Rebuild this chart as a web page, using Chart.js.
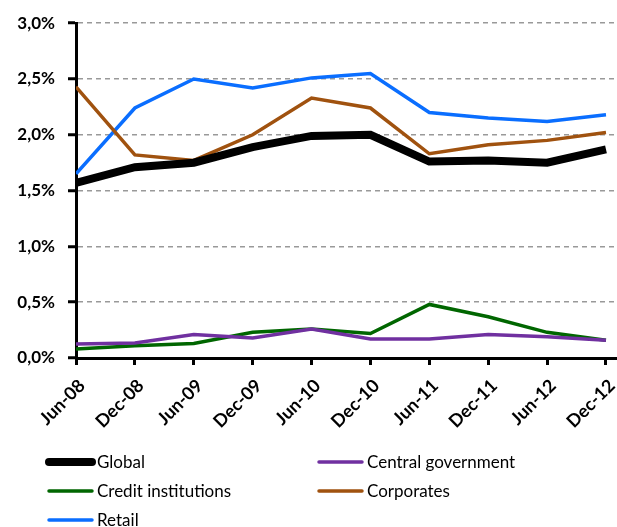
<!DOCTYPE html>
<html>
<head>
<meta charset="utf-8">
<script src="https://cdn.jsdelivr.net/npm/chart.js@4/dist/chart.umd.min.js"></script>
<style>
html,body{margin:0;padding:0;background:#fff;}
#wrap{width:617px;height:527px;position:relative;}
</style>
</head>
<body>
<div id="wrap"><canvas id="c" width="617" height="527"></canvas></div>
<script>
const categories = ["Jun-08","Dec-08","Jun-09","Dec-09","Jun-10","Dec-10","Jun-11","Dec-11","Jun-12","Dec-12"];
const yTicks = [0, 0.5, 1.0, 1.5, 2.0, 2.5, 3.0];
const globalVals     = [1.57, 1.71, 1.75, 1.89, 1.99, 2.00, 1.76, 1.77, 1.75, 1.87];
const centralGov     = [0.125, 0.135, 0.21, 0.18, 0.26, 0.17, 0.17, 0.21, 0.19, 0.16];
const creditInst     = [0.08, 0.11, 0.13, 0.23, 0.26, 0.22, 0.48, 0.37, 0.23, 0.16];
const corporates     = [2.43, 1.82, 1.77, 2.00, 2.33, 2.24, 1.83, 1.91, 1.95, 2.02];
const retail         = [1.65, 2.24, 2.50, 2.42, 2.51, 2.55, 2.20, 2.15, 2.12, 2.18];

const toXY = arr => arr.map((v, i) => ({x: i, y: v}));

const FONT = "Lato, 'Open Sans', sans-serif";

const legendPlugin = {
  id: 'gridLegend',
  afterDraw(chart) {
    const ctx = chart.ctx;
    const cols = [47, 317];
    const rows = [462, 491, 520];
    ctx.save();
    chart.data.datasets.forEach((ds, i) => {
      const x = cols[i % 2];
      const y = rows[Math.floor(i / 2)];
      ctx.strokeStyle = ds.borderColor;
      ctx.lineWidth = ds.legendWidth;
      ctx.lineCap = 'round';
      ctx.beginPath();
      ctx.moveTo(x + 2, y);
      ctx.lineTo(x + 45, y);
      ctx.stroke();
      ctx.fillStyle = '#000';
      ctx.font = "17px " + FONT;
      ctx.textBaseline = 'middle';
      ctx.textAlign = 'left';
      ctx.fillText(ds.label, x + 50, y + 1);
    });
    ctx.restore();
  }
};

new Chart(document.getElementById('c'), {
  type: 'line',
  data: {
    datasets: [
      {label: 'Global', data: toXY(globalVals), borderColor: '#000000', borderWidth: 8, legendWidth: 8},
      {label: 'Central government', data: toXY(centralGov), borderColor: '#7030A0', borderWidth: 3.5, legendWidth: 3.5},
      {label: 'Credit institutions', data: toXY(creditInst), borderColor: '#006600', borderWidth: 3.5, legendWidth: 3.5},
      {label: 'Corporates', data: toXY(corporates), borderColor: '#A0520F', borderWidth: 3.5, legendWidth: 3.5},
      {label: 'Retail', data: toXY(retail), borderColor: '#0A6EFF', borderWidth: 3.5, legendWidth: 3.5}
    ]
  },
  options: {
    responsive: false,
    animation: false,
    devicePixelRatio: 1,
    elements: {point: {radius: 0}, line: {tension: 0, borderCapStyle: 'butt', borderJoinStyle: 'miter'}},
    layout: {padding: {top: 23, right: 1, bottom: 87, left: 0}},
    plugins: {legend: {display: false}, tooltip: {enabled: false}},
    scales: {
      x: {
        type: 'linear',
        min: 0,
        max: 9.17,
        afterFit: s => { s.height = 82; s.paddingRight = 0; s.paddingLeft = 0; },
        grid: {display: true, drawOnChartArea: false, drawTicks: true, tickLength: 7, color: '#000', lineWidth: 3},
        border: {display: true, color: '#000', width: 3},
        ticks: {
          stepSize: 1,
          includeBounds: false,
          autoSkip: false,
          minRotation: 45,
          maxRotation: 45,
          padding: 10,
          labelOffset: 6,
          color: '#000',
          font: {family: FONT, size: 18, weight: 'bold'},
          callback: v => (Number.isInteger(v) ? categories[v] : '')
        }
      },
      y: {
        min: 0,
        max: 3,
        afterFit: s => { s.width = 76; },
        afterBuildTicks: s => { s.ticks = yTicks.map(v => ({value: v})); },
        grid: {
          display: true,
          drawTicks: true,
          tickLength: 8,
          color: ctx => (ctx.tick && ctx.tick.value === 0 ? 'rgba(0,0,0,0)' : '#999999'),
          tickColor: '#000',
          tickWidth: 3,
          lineWidth: 1.5
        },
        border: {display: true, color: '#000', width: 3, dash: [5, 4]},
        ticks: {
          padding: 13,
          color: '#000',
          font: {family: FONT, size: 17, weight: 'bold'},
          callback: v => v.toFixed(1).replace('.', ',') + '%'
        }
      }
    }
  },
  plugins: [legendPlugin]
});
</script>
</body>
</html>
